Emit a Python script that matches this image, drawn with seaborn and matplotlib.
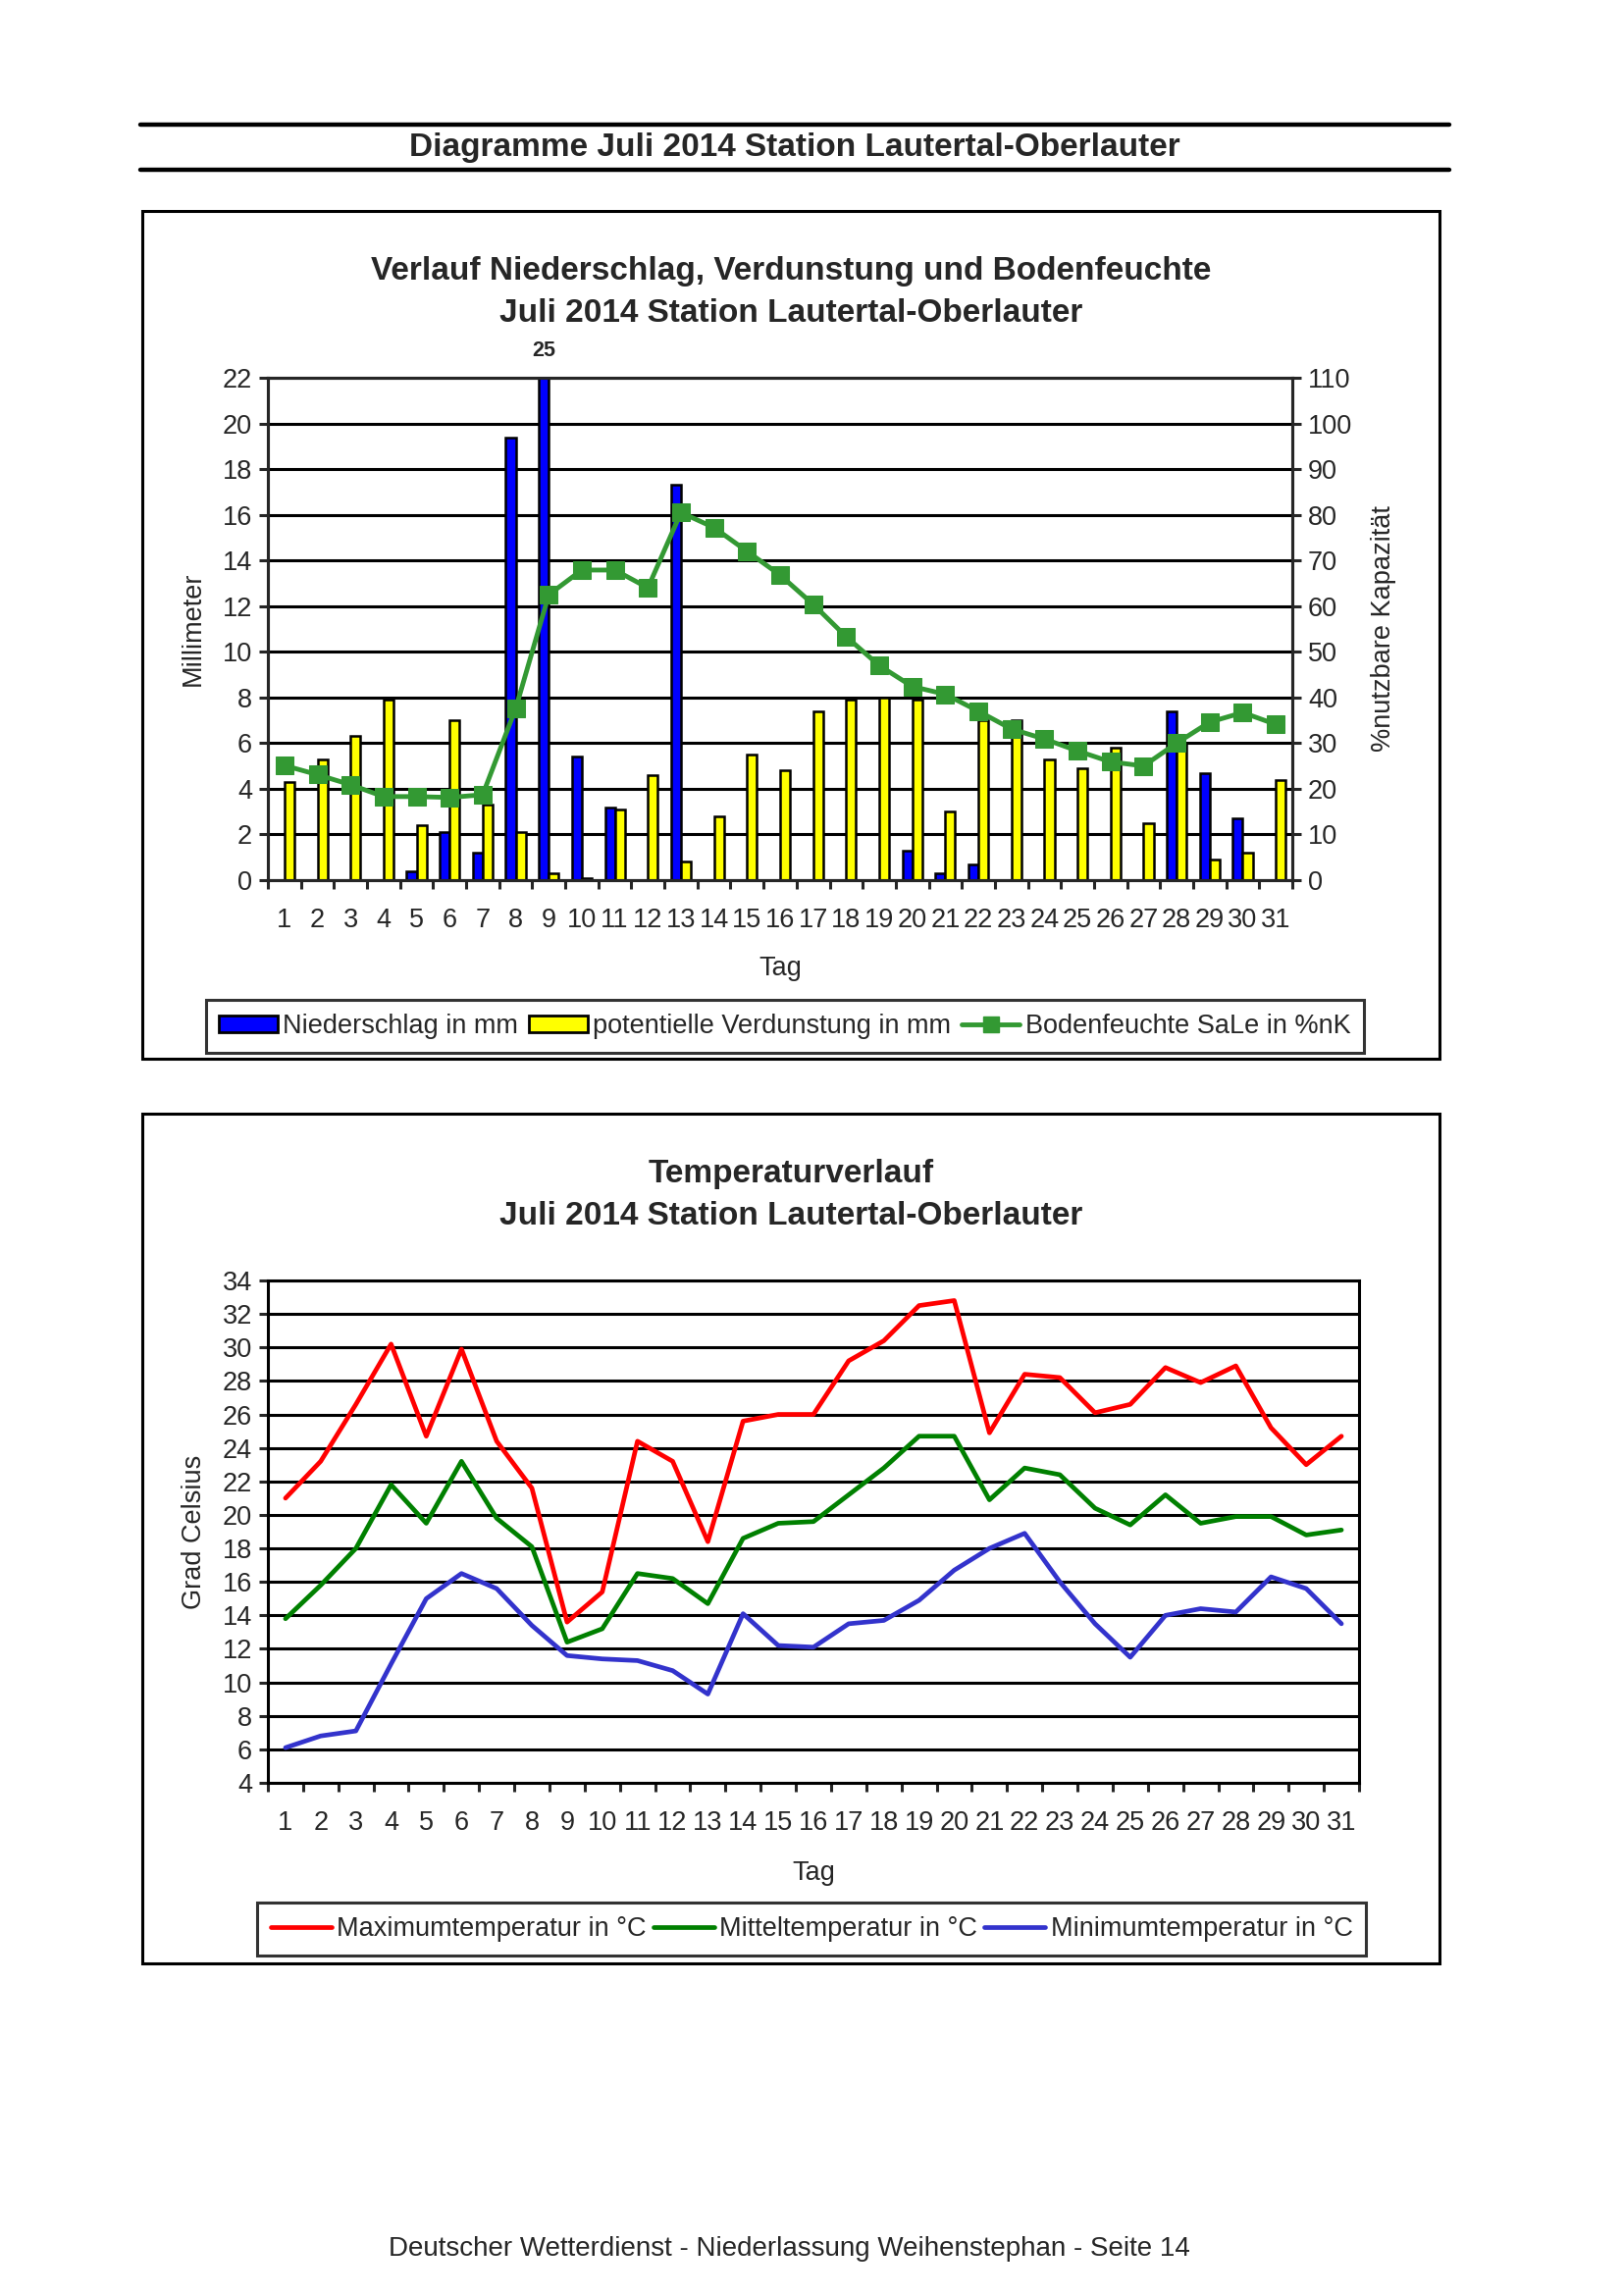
import numpy as np
import pandas as pd
import seaborn as sns
import matplotlib.pyplot as plt
from matplotlib.patches import Rectangle, Patch
from matplotlib.lines import Line2D

# --- Daten Juli 2014, Station Lautertal-Oberlauter ---
tage = list(range(1, 32))

niederschlag = [0.0, 0.0, 0.0, 0.0, 0.4, 2.1, 1.2, 19.4, 25.0, 5.4,
                3.2, 0.0, 17.3, 0.0, 0.0, 0.0, 0.0, 0.0, 0.0, 1.3,
                0.3, 0.7, 0.0, 0.0, 0.0, 0.0, 0.0, 7.4, 4.7, 2.7, 0.0]
verdunstung = [4.3, 5.3, 6.3, 7.9, 2.4, 7.0, 3.3, 2.1, 0.3, 0.1,
               3.1, 4.6, 0.8, 2.8, 5.5, 4.8, 7.4, 7.9, 8.0, 7.9,
               3.0, 7.0, 7.0, 5.3, 4.9, 5.8, 2.5, 6.0, 0.9, 1.2, 4.4]
bodenfeuchte = [25.1, 23.1, 20.9, 18.3, 18.3, 18.1, 18.7, 37.6, 62.5, 67.9,
                67.9, 64.0, 80.5, 77.2, 72.0, 66.8, 60.4, 53.3, 47.0, 42.4,
                40.7, 37.0, 33.1, 30.9, 28.3, 25.9, 25.0, 30.0, 34.6, 36.7, 34.1]

t_max = [21.0, 23.2, 26.6, 30.2, 24.7, 29.9, 24.4, 21.6, 13.6, 15.4,
         24.4, 23.2, 18.4, 25.6, 26.0, 26.0, 29.2, 30.4, 32.5, 32.8,
         24.9, 28.4, 28.2, 26.1, 26.6, 28.8, 27.9, 28.9, 25.2, 23.0, 24.7]
t_mittel = [13.8, 15.8, 18.0, 21.8, 19.5, 23.2, 19.8, 18.1, 12.4, 13.2,
            16.5, 16.2, 14.7, 18.6, 19.5, 19.6, 21.2, 22.8, 24.7, 24.7,
            20.9, 22.8, 22.4, 20.4, 19.4, 21.2, 19.5, 19.9, 19.9, 18.8, 19.1]
t_min = [6.1, 6.8, 7.1, 11.1, 15.0, 16.5, 15.6, 13.4, 11.6, 11.4,
         11.3, 10.7, 9.3, 14.1, 12.2, 12.1, 13.5, 13.7, 14.9, 16.7,
         18.0, 18.9, 16.0, 13.5, 11.5, 14.0, 14.4, 14.2, 16.3, 15.6, 13.5]

bar_serien = ['Niederschlag in mm', 'potentielle Verdunstung in mm']
temp_serien = ['Maximumtemperatur in °C', 'Mitteltemperatur in °C', 'Minimumtemperatur in °C']

df_bars = pd.DataFrame({
    'Tag': tage * 2,
    'mm': niederschlag + verdunstung,
    'Serie': [bar_serien[0]] * 31 + [bar_serien[1]] * 31,
})
df_temp = pd.DataFrame({
    'Tag': tage * 3,
    'Temp': t_max + t_mittel + t_min,
    'Serie': [temp_serien[0]] * 31 + [temp_serien[1]] * 31 + [temp_serien[2]] * 31,
})

# --- Stil ---
sns.set_style('ticks')
plt.rcParams['font.family'] = ['Liberation Sans', 'DejaVu Sans']
FS = 19.5
TITLE_FS = 24
LW = 2.2

W, H = 1653, 2340
fig = plt.figure(figsize=(W / 100, H / 100), dpi=100)


def fx(px):
    return px / W


def fy(py):
    return 1 - py / H


# Kopfzeile
for yy in (127, 173):
    fig.add_artist(Line2D([fx(143), fx(1477)], [fy(yy), fy(yy)], color='black', lw=3.2,
                          transform=fig.transFigure))
fig.text(fx(810), fy(151), 'Diagramme Juli 2014 Station Lautertal-Oberlauter',
         ha='center', va='center', fontsize=TITLE_FS, fontweight='bold')

# Rahmen
for (x0, y0, x1, y1) in [(145, 215, 1467, 1079), (145, 1135, 1467, 2001)]:
    fig.add_artist(Rectangle((fx(x0), fy(y1)), fx(x1) - fx(x0), fy(y0) - fy(y1),
                             transform=fig.transFigure, fill=False, edgecolor='black', lw=2.2))


def style_axis(ax):
    for sp in ax.spines.values():
        sp.set_color('black')
        sp.set_linewidth(LW)
    ax.grid(axis='y', color='black', linewidth=LW)
    ax.grid(axis='x', visible=False)
    ax.set_axisbelow(True)
    ax.tick_params(axis='y', which='major', length=6.5, width=LW, labelsize=FS, pad=5)
    ax.tick_params(axis='x', which='major', length=0, labelsize=FS, pad=20)
    ax.tick_params(axis='x', which='minor', length=6.5, width=LW, direction='out')


# --- Diagramm 1: Niederschlag, Verdunstung, Bodenfeuchte ---
ax1 = fig.add_axes([fx(273), fy(897), fx(1317) - fx(273), fy(385) - fy(897)])
sns.barplot(data=df_bars, x='Tag', y='mm', hue='Serie', hue_order=bar_serien, order=tage,
            palette=['#0000ff', '#ffff00'], saturation=1, width=0.6, edgecolor='black',
            linewidth=1.8, errorbar=None, legend=False, ax=ax1)
ax1.set_ylim(0, 22)
ax1.set_yticks(np.arange(0, 23, 2))
ax1.set_xticks(np.arange(-0.5, 31, 1), minor=True)
ax1.set_xlabel('Tag', fontsize=FS)
ax1.set_ylabel('Millimeter', fontsize=FS)
ax1.xaxis.set_label_coords(0.5, -0.150)
ax1.yaxis.set_label_coords(-0.061, 0.5)
style_axis(ax1)

ax1b = ax1.twinx()
sns.lineplot(x=np.arange(len(tage)), y=bodenfeuchte, ax=ax1b, color='#339933', marker='s',
             markersize=13, markeredgecolor='#339933', linewidth=3.5)
ax1b.set_ylim(0, 110)
ax1b.set_yticks(np.arange(0, 111, 10))
ax1b.set_xlim(-0.5, 30.5)
ax1.set_xlim(-0.5, 30.5)
ax1b.set_ylabel('%nutzbare Kapazität', fontsize=FS)
ax1b.yaxis.set_label_coords(1.077, 0.5)
ax1b.tick_params(axis='y', length=6.5, width=LW, labelsize=FS, pad=5)
ax1b.grid(False)
for sp in ax1b.spines.values():
    sp.set_linewidth(LW)

# Wert ausserhalb der Skala
i9 = tage.index(9)
ax1.annotate(f'{niederschlag[i9]:.0f}', xy=(i9 - 0.15, 22), xytext=(0, 20),
             textcoords='offset points', ha='center', va='center', fontsize=15.5,
             fontweight='bold', annotation_clip=False)

fig.text(fx(806), fy(276), 'Verlauf Niederschlag, Verdunstung und Bodenfeuchte',
         ha='center', va='center', fontsize=TITLE_FS, fontweight='bold')
fig.text(fx(806), fy(319), 'Juli 2014 Station Lautertal-Oberlauter',
         ha='center', va='center', fontsize=TITLE_FS, fontweight='bold')

h1 = [Patch(facecolor='#0000ff', edgecolor='black', lw=2),
      Patch(facecolor='#ffff00', edgecolor='black', lw=2),
      Line2D([], [], color='#339933', lw=3.5, marker='s', markersize=11)]
lab1 = bar_serien + ['Bodenfeuchte SaLe in %nK']
leg1 = fig.legend(h1, lab1, loc='center', bbox_to_anchor=(fx(800), fy(1046)), ncol=3,
                  fontsize=FS, frameon=True, fancybox=False, edgecolor='black',
                  handlelength=2.2, handleheight=0.6, handletextpad=0.2, columnspacing=0.4,
                  borderpad=0.5, borderaxespad=0)
leg1.get_frame().set_linewidth(2.2)

# --- Diagramm 2: Temperaturverlauf ---
ax2 = fig.add_axes([fx(273), fy(1817), fx(1385) - fx(273), fy(1305) - fy(1817)])
sns.lineplot(data=df_temp, x='Tag', y='Temp', hue='Serie', hue_order=temp_serien,
             palette=['#ff0000', '#008000', '#3333cc'], linewidth=3.4, legend=False, ax=ax2)
ax2.set_xlim(0.5, 31.5)
ax2.set_ylim(4, 34)
ax2.set_yticks(np.arange(4, 35, 2))
ax2.set_xticks(tage)
ax2.set_xticks(np.arange(0.5, 32, 1), minor=True)
ax2.set_xlabel('Tag', fontsize=FS)
ax2.set_ylabel('Grad Celsius', fontsize=FS)
ax2.xaxis.set_label_coords(0.5, -0.154)
ax2.yaxis.set_label_coords(-0.056, 0.5)
style_axis(ax2)

fig.text(fx(806), fy(1196), 'Temperaturverlauf',
         ha='center', va='center', fontsize=TITLE_FS, fontweight='bold')
fig.text(fx(806), fy(1240), 'Juli 2014 Station Lautertal-Oberlauter',
         ha='center', va='center', fontsize=TITLE_FS, fontweight='bold')

h2 = [Line2D([], [], color=c, lw=3.4) for c in ['#ff0000', '#008000', '#3333cc']]
leg2 = fig.legend(h2, temp_serien, loc='center', bbox_to_anchor=(fx(827), fy(1966)), ncol=3,
                  fontsize=FS, frameon=True, fancybox=False, edgecolor='black',
                  handlelength=2.3, handletextpad=0.2, columnspacing=0.25,
                  borderpad=0.5, borderaxespad=0)
leg2.get_frame().set_linewidth(2.2)

# Fusszeile
fig.text(fx(804), fy(2292), 'Deutscher Wetterdienst - Niederlassung Weihenstephan - Seite 14',
         ha='center', va='center', fontsize=20)

fig.savefig('out.png', dpi=100, facecolor='white')
